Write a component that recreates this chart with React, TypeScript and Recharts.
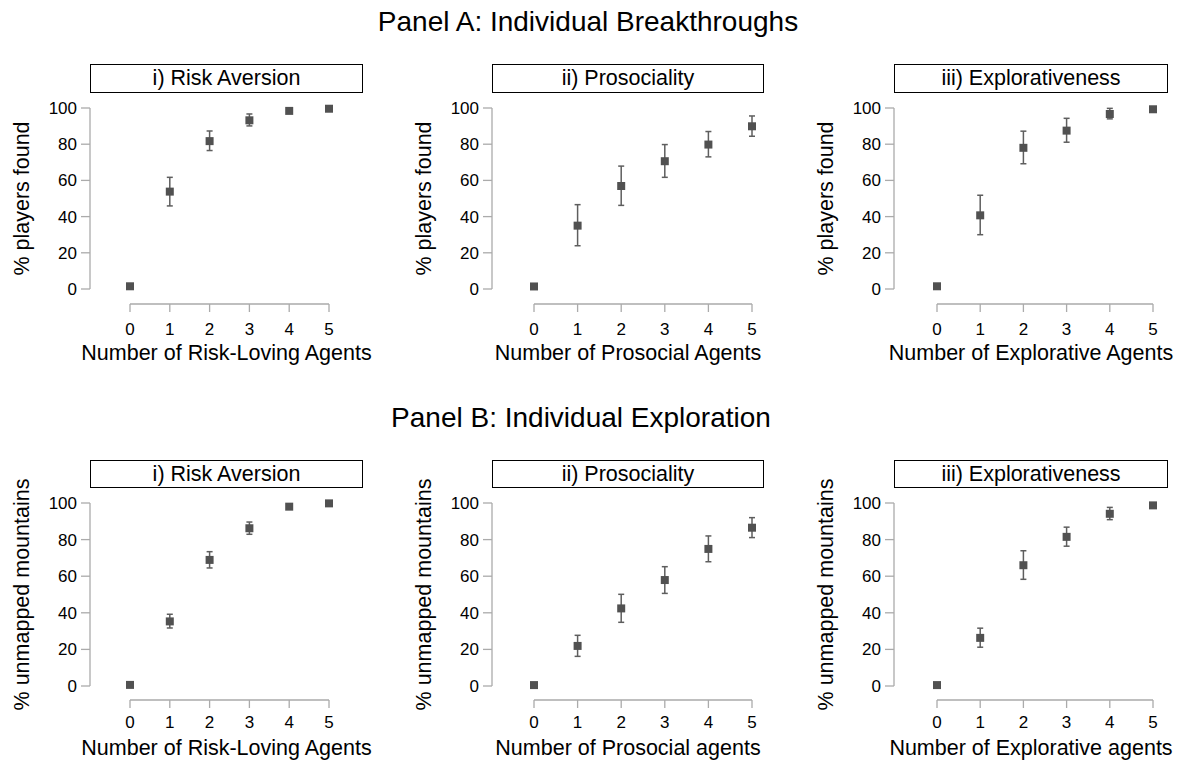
import { ScatterChart, Scatter, XAxis, YAxis, ZAxis, ErrorBar } from 'recharts';

const agents = [0, 1, 2, 3, 4, 5];
const yTicks = [0, 20, 40, 60, 80, 100];

// Panel A: % players found (mean, lower CI, upper CI)
const riskFound = [1.5, 53.8, 81.7, 93.2, 98.4, 99.6];
const riskFoundLo = [0.8, 45.9, 76.5, 90.1, 97.6, 99.3];
const riskFoundHi = [2.2, 61.7, 87.3, 96.7, 99.2, 99.9];

const prosocialFound = [1.4, 35.0, 56.9, 70.6, 79.8, 89.9];
const prosocialFoundLo = [0.7, 23.9, 46.2, 61.7, 73.0, 84.4];
const prosocialFoundHi = [2.1, 46.6, 67.9, 79.8, 87.0, 95.6];

const exploreFound = [1.5, 40.7, 78.0, 87.5, 96.7, 99.3];
const exploreFoundLo = [0.8, 30.0, 69.2, 81.1, 94.0, 99.0];
const exploreFoundHi = [2.2, 51.8, 87.2, 94.3, 99.8, 99.6];

// Panel B: % unmapped mountains
const riskMapped = [0.6, 35.3, 68.9, 86.2, 98.0, 99.8];
const riskMappedLo = [0.3, 31.7, 64.5, 82.9, 97.3, 99.6];
const riskMappedHi = [0.9, 39.2, 73.4, 89.6, 98.7, 100];

const prosocialMapped = [0.5, 21.9, 42.4, 57.9, 74.9, 86.5];
const prosocialMappedLo = [0.2, 16.2, 34.8, 50.6, 67.9, 81.1];
const prosocialMappedHi = [0.8, 27.7, 50.1, 65.2, 82.0, 92.0];

const exploreMapped = [0.5, 26.3, 66.0, 81.5, 94.1, 98.7];
const exploreMappedLo = [0.2, 21.2, 58.3, 76.4, 90.9, 98.3];
const exploreMappedHi = [0.8, 31.6, 73.9, 86.8, 97.6, 99.1];

const panelTitles = ['Panel A: Individual Breakthroughs', 'Panel B: Individual Exploration'];
const facetTitles = ['i) Risk Aversion', 'ii) Prosociality', 'iii) Explorativeness'];
const yTitles = ['% players found', '% unmapped mountains'];
const xTitlesA = ['Number of Risk-Loving Agents', 'Number of Prosocial Agents', 'Number of Explorative Agents'];
const xTitlesB = ['Number of Risk-Loving Agents', 'Number of Prosocial agents', 'Number of Explorative agents'];

const toRows = (mean: number[], lo: number[], hi: number[]) =>
  agents.map((a, i) => ({ x: a, y: mean[i], err: [mean[i] - lo[i], hi[i] - mean[i]] }));

const seriesA = [
  toRows(riskFound, riskFoundLo, riskFoundHi),
  toRows(prosocialFound, prosocialFoundLo, prosocialFoundHi),
  toRows(exploreFound, exploreFoundLo, exploreFoundHi),
];
const seriesB = [
  toRows(riskMapped, riskMappedLo, riskMappedHi),
  toRows(prosocialMapped, prosocialMappedLo, prosocialMappedHi),
  toRows(exploreMapped, exploreMappedLo, exploreMappedHi),
];

// layout (page pixels)
const cols = [
  { gx: 90, x0: 130, x5: 329, boxRight: 363 },
  { gx: 492, x0: 534, x5: 752, boxRight: 764 },
  { gx: 894, x0: 937, x5: 1153, boxRight: 1168 },
];
const rows = [
  { yTop: 108, yZero: 289, axisY: 304, boxTop: 64, boxBottom: 93, titleY: 31, titleX: 588, xTitleGap: 56, tickGap: 11 },
  { yTop: 503, yZero: 686, axisY: 700, boxTop: 460, boxBottom: 488, titleY: 427, titleX: 581, xTitleGap: 55, tickGap: 8 },
];

const FONT = '"Liberation Sans", Arial, Helvetica, sans-serif';
const AXIS_GRAY = '#ababab';
const MARK = '#515151';

function SubPlot({ col, row, data, yTitle, xTitle, facet }: any) {
  const mTop = 60;
  const mLeft = 10;
  const yWidth = 80;
  const xHeight = 70;
  const mRight = 45;
  const plotH = row.axisY - row.yTop;
  const svgLeft = col.gx - mLeft - yWidth;
  const width = mLeft + yWidth + (col.x5 - col.gx) + mRight;
  const height = mTop + plotH + xHeight;
  const xCenter = mLeft + yWidth + (col.boxRight - col.gx) / 2;
  const yCenter = mTop + (row.yZero - row.yTop) / 2;
  const yLabelX = mLeft + yWidth - 68;

  return (
    <>
      <div style={{ position: 'absolute', left: svgLeft, top: row.yTop - mTop }}>
        <ScatterChart width={width} height={height} margin={{ top: mTop, right: mRight, bottom: 0, left: mLeft }}>
          <XAxis
            type="number"
            dataKey="x"
            domain={[0, 5]}
            ticks={agents}
            padding={{ left: col.x0 - col.gx, right: 0 }}
            height={xHeight}
            tickSize={8}
            tickMargin={row.tickGap}
            axisLine={{ stroke: AXIS_GRAY, strokeWidth: 1.3, strokeDasharray: `0 ${col.x0 - col.gx} ${col.x5 - col.x0} 2000` }}
            tickLine={{ stroke: AXIS_GRAY, strokeWidth: 1.3 }}
            tick={{ fill: '#000', fontSize: 17 }}
            label={() => (
              <text x={xCenter} y={mTop + plotH + row.xTitleGap} textAnchor="middle" fontSize={21.5} fill="#000">
                {xTitle}
              </text>
            )}
          />
          <YAxis
            type="number"
            dataKey="y"
            domain={[0, 100]}
            ticks={yTicks}
            width={yWidth}
            padding={{ top: 0, bottom: row.axisY - row.yZero }}
            tickSize={9}
            tickMargin={4}
            axisLine={{ stroke: AXIS_GRAY, strokeWidth: 1.3, strokeDasharray: `${row.yZero - row.yTop} 2000` }}
            tickLine={{ stroke: AXIS_GRAY, strokeWidth: 1.3 }}
            tick={{ fill: '#000', fontSize: 17 }}
            label={() => (
              <text
                x={yLabelX}
                y={yCenter}
                transform={`rotate(-90 ${yLabelX} ${yCenter})`}
                textAnchor="middle"
                dominantBaseline="central"
                fontSize={21.5}
                fill="#000"
              >
                {yTitle}
              </text>
            )}
          />
          <ZAxis range={[50, 50]} />
          <Scatter data={data} shape="square" fill={MARK} isAnimationActive={false}>
            <ErrorBar dataKey="err" direction="y" width={3} stroke="#5e5e5e" strokeWidth={1.5} />
          </Scatter>
        </ScatterChart>
      </div>
      <div
        style={{
          position: 'absolute',
          left: col.gx,
          top: row.boxTop,
          width: col.boxRight - col.gx,
          height: row.boxBottom - row.boxTop,
          border: '1px solid #000',
          boxSizing: 'border-box',
          display: 'flex',
          alignItems: 'center',
          justifyContent: 'center',
          fontSize: 21.5,
          color: '#000',
          background: '#fff',
        }}
      >
        {facet}
      </div>
    </>
  );
}

export default function App() {
  return (
    <div
      style={{
        position: 'absolute',
        left: 0,
        top: 0,
        width: 1181,
        height: 763,
        overflow: 'hidden',
        background: '#fff',
        fontFamily: FONT,
      }}
    >
      <svg width={1181} height={763} style={{ position: 'absolute', left: 0, top: 0 }}>
        {rows.map((r, i) => (
          <text key={i} x={r.titleX} y={r.titleY} textAnchor="middle" fontSize={28} fill="#000">
            {panelTitles[i]}
          </text>
        ))}
      </svg>
      {cols.map((c, j) => (
        <SubPlot key={'a' + j} col={c} row={rows[0]} data={seriesA[j]} yTitle={yTitles[0]} xTitle={xTitlesA[j]} facet={facetTitles[j]} />
      ))}
      {cols.map((c, j) => (
        <SubPlot key={'b' + j} col={c} row={rows[1]} data={seriesB[j]} yTitle={yTitles[1]} xTitle={xTitlesB[j]} facet={facetTitles[j]} />
      ))}
    </div>
  );
}
